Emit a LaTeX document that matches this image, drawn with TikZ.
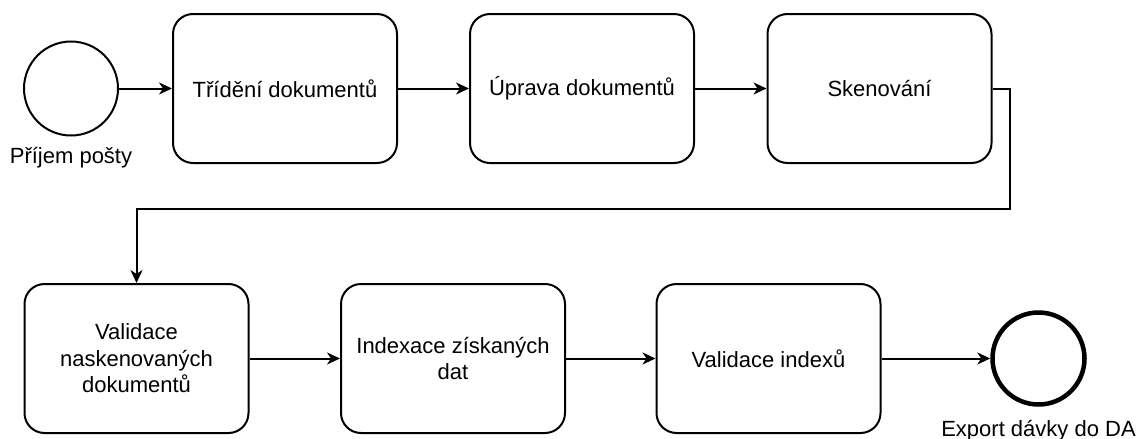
\documentclass[tikz,border=0pt]{standalone}
\usepackage{fontspec}
\setmainfont{Liberation Sans}
\usetikzlibrary{arrows.meta}
\begin{document}
\begin{tikzpicture}[x=1pt,y=-1pt,
  task/.style={draw=black,line width=2pt,rounded corners=20pt,
    minimum width=224pt,minimum height=149pt,align=center,
    font=\fontsize{22}{26.5}\selectfont,inner sep=0pt},
  startev/.style={draw=black,line width=2pt,circle,minimum size=94pt,inner sep=0pt},
  endev/.style={draw=black,line width=4.5pt,circle,minimum size=92pt,inner sep=0pt},
  lbl/.style={font=\fontsize{22}{26.5}\selectfont,inner sep=0pt},
  flow/.style={draw=black,line width=2pt,-{Stealth[length=13pt,width=12pt,inset=4pt]}}]
\useasboundingbox (0,0) rectangle (1138,439);
% start event and first row of tasks
\node[startev] (start) at (71,88.5) {};
\node[lbl] (startlbl) at (71,158) {Příjem pošty};
\node[task] (trideni) at (285,88.5) {Třídění dokumentů};
\node[task] (uprava) at (582,88.5) {Úprava dokumentů};
\node[task] (sken) at (879.5,88.5) {Skenování};
% second row of tasks and end event
\node[task] (valid) at (136.5,358.5) {Validace\\naskenovaných\\dokumentů};
\node[task] (index) at (453,358.5) {Indexace získaných\\dat};
\node[task] (validx) at (768.5,358.5) {Validace indexů};
\node[endev] (end) at (1038.5,358.5) {};
\node[lbl] (endlbl) at (1038.5,431) {Export dávky do DA};
% sequence flows
\coordinate (turn) at (1010,209);
\draw[flow] (start) -- (trideni);
\draw[flow] (trideni) -- (uprava);
\draw[flow] (uprava) -- (sken);
\draw[flow] (sken.east) -| (turn) -| (valid.north);
\draw[flow] (valid) -- (index);
\draw[flow] (index) -- (validx);
\draw[flow] (validx) -- (end);
\end{tikzpicture}
\end{document}
